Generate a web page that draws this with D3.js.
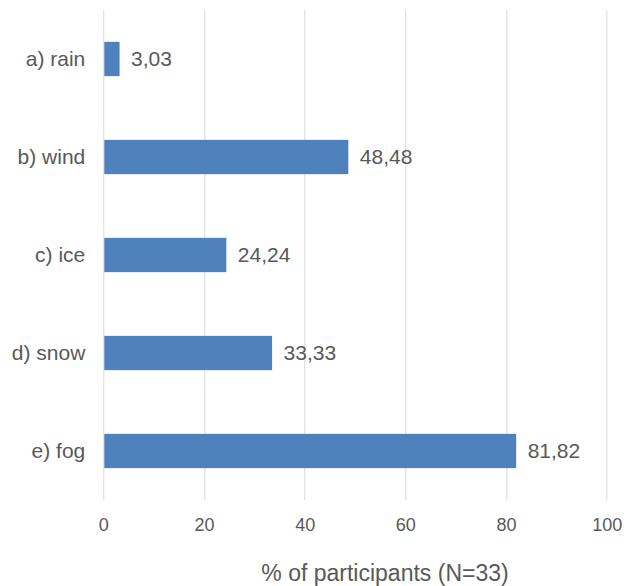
<!DOCTYPE html>
<html>
<head>
<meta charset="utf-8">
<script src="https://cdn.jsdelivr.net/npm/d3@7"></script>
<style>
  html, body { margin: 0; padding: 0; background: #ffffff; }
  svg { display: block; }
  text { font-family: "Liberation Sans", Arial, sans-serif; fill: #595959; }
</style>
</head>
<body>
<svg id="chart" width="627" height="586"></svg>
<script>
// Weather conditions reported, share of participants
const categories = ["a) rain", "b) wind", "c) ice", "d) snow", "e) fog"];
const values = [3.03, 48.48, 24.24, 33.33, 81.82];
const tickValues = [0, 20, 40, 60, 80, 100];
const axisTitle = "% of participants (N=33)";

const svg = d3.select("#chart");
const margin = { top: 10, right: 20, bottom: 86, left: 103.3 };
const width = 627, height = 586;
const plotW = 606.7 - margin.left;
const plotH = height - margin.top - margin.bottom;

const g = svg.append("g").attr("transform", `translate(${margin.left},${margin.top})`);

const x = d3.scaleLinear().domain([0, 100]).range([0, plotW]);
const y = d3.scaleBand().domain(categories).range([0, plotH]).paddingInner(0.65).paddingOuter(0.325);

// vertical gridlines
g.append("g")
  .selectAll("line")
  .data(tickValues)
  .join("line")
  .attr("x1", d => Math.round(x(d)) + 0.5)
  .attr("x2", d => Math.round(x(d)) + 0.5)
  .attr("y1", 0)
  .attr("y2", plotH)
  .attr("stroke", "#d9d9d9")
  .attr("stroke-width", 1);

// bars
g.append("g")
  .selectAll("rect")
  .data(values)
  .join("rect")
  .attr("x", x(0) + 1)
  .attr("y", (d, i) => y(categories[i]))
  .attr("width", d => x(d) - x(0))
  .attr("height", y.bandwidth())
  .attr("fill", "#4f81bd");

// value labels
g.append("g")
  .selectAll("text")
  .data(values)
  .join("text")
  .attr("x", d => x(d) + 12.5)
  .attr("y", (d, i) => y(categories[i]) + y.bandwidth() / 2)
  .attr("dy", "0.35em")
  .style("font-size", "21px")
  .text(d => d3.format(".2f")(d).replace(".", ","));

// category axis
const yAxis = d3.axisLeft(y).tickSize(0).tickPadding(18);
const yg = g.append("g").call(yAxis);
yg.select(".domain").remove();
yg.selectAll("text")
  .style("font-size", "21px")
  .style("font-family", "'Liberation Sans', Arial, sans-serif")
  .attr("fill", "#595959");

// value axis
const xAxis = d3.axisBottom(x).tickValues(tickValues).tickSize(0).tickPadding(18).tickFormat(d3.format("d"));
const xg = g.append("g").attr("transform", `translate(0,${plotH})`).call(xAxis);
xg.select(".domain").remove();
xg.selectAll("text")
  .style("font-size", "18px")
  .style("font-family", "'Liberation Sans', Arial, sans-serif")
  .attr("fill", "#595959");

// axis title
svg.append("text")
  .attr("x", margin.left + plotW / 2 + 30)
  .attr("y", 581)
  .attr("text-anchor", "middle")
  .style("font-size", "23px")
  .text(axisTitle);
</script>
</body>
</html>
